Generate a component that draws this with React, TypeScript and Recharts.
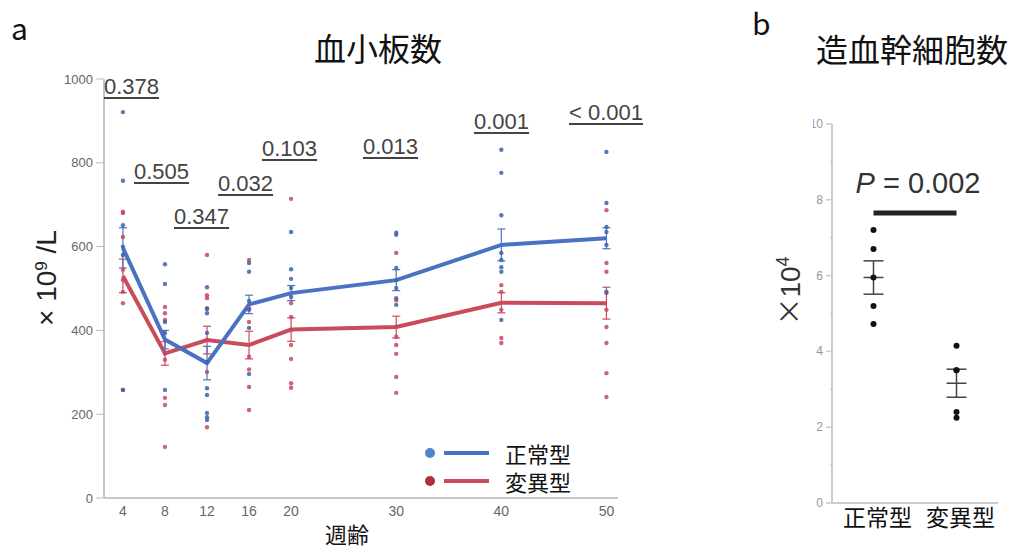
import { ComposedChart, Line, Scatter, XAxis, YAxis, ErrorBar, Legend, ReferenceLine } from 'recharts';

// 血小板数 (x10^9/L) by week of age
const weeks = [4, 8, 12, 16, 20, 30, 40, 50];
const normalMean = [597, 378, 322, 462, 489, 520, 604, 620];
const mutantMean = [530, 345, 377, 365, 402, 408, 466, 465];
const normalSem = [48, 22, 40, 22, 18, 25, 38, 25];
const mutantSem = [40, 28, 33, 33, 28, 26, 24, 38];

const normalPoints: number[][] = [
    [921, 757, 651, 600, 580, 258],
    [558, 511, 420, 394, 258],
    [503, 451, 441, 394, 324, 262, 246, 203, 193, 186],
    [561, 540, 470, 449, 406, 296],
    [635, 546, 523, 501, 480],
    [633, 628, 549, 520, 501, 477, 461],
    [831, 776, 675, 585, 568, 551, 540, 425],
    [826, 704, 647, 635, 604, 492],
];
const mutantPoints: number[][] = [
    [683, 680, 623, 545, 520, 492, 465, 258],
    [456, 441, 425, 345, 330, 239, 222, 122],
    [580, 484, 477, 453, 378, 301, 169],
    [568, 453, 420, 337, 307, 265, 210],
    [714, 465, 432, 401, 365, 332, 274, 263],
    [585, 472, 409, 385, 365, 344, 289, 251],
    [508, 492, 449, 382, 370],
    [687, 561, 540, 489, 449, 408, 370, 298, 241],
];
const pValues = ['0.378', '0.505', '0.347', '0.032', '0.103', '0.013', '0.001', '< 0.001'];
const yTicksA = [0, 200, 400, 600, 800, 1000];

// 造血幹細胞数 (x10^4)
const hscGroups = ['正常型', '変異型'];
const hscValues: number[][] = [
    [7.2, 6.7, 5.95, 5.2, 4.72],
    [4.15, 3.5, 3.5, 2.4, 2.25],
];
const hscMean = [5.95, 3.16];
const hscSem = [0.44, 0.37];
const hscBarY = 7.65;
const yTicksB = [0, 1, 2, 3, 4, 5, 6, 7, 8, 9, 10];

const BLUE = '#4a72c3';
const RED = '#c94c5a';
const BLUE_DOT = '#3d62ad';
const RED_DOT = '#c84762';
const SANS = '"Liberation Sans", Arial, sans-serif';
const CJK = '"Noto Sans CJK JP", "Noto Sans", sans-serif';

// where each p-value label sits (left, vertical centre)
const pLayout = [[104, 87], [134, 172], [174, 217], [218, 184], [262, 149], [363, 147], [474, 122], [569, 113]];

const lineData = weeks.map((w, i) => ({
    x: w,
    normal: normalMean[i],
    mutant: mutantMean[i],
    normalErr: normalSem[i],
    mutantErr: mutantSem[i],
}));
const normalScatter = weeks.flatMap((w, i) => normalPoints[i].map((v) => ({ x: w, normal: v })));
const mutantScatter = weeks.flatMap((w, i) => mutantPoints[i].map((v) => ({ x: w, mutant: v })));

const hscPoints = hscValues.flatMap((vals, i) => vals.map((v) => ({ x: i + 0.5, v })));
const hscSummary = hscGroups.map((_, i) => ({ x: i + 0.5, v: hscMean[i], err: hscSem[i] }));

function LegendBox() {
    const rows = [
        { label: '正常型', dot: '#4a86c8', line: BLUE },
        { label: '変異型', dot: '#b0303a', line: RED },
    ];
    return (
        <div>
            {rows.map((r) => (
                <div key={r.label} style={{ display: 'flex', alignItems: 'center', height: 28 }}>
                    <svg width={70} height={20}>
                        <circle cx={6} cy={10} r={5} fill={r.dot} />
                        <line x1={20} y1={10} x2={65} y2={10} stroke={r.line} strokeWidth={4} />
                    </svg>
                    <span style={{ marginLeft: 11, fontFamily: CJK, fontSize: 22, color: '#111', lineHeight: 1 }}>{r.label}</span>
                </div>
            ))}
        </div>
    );
}

function HscTick(props: any) {
    const { x, y, payload } = props;
    const major = payload.value % 2 === 0;
    return (
        <g>
            <line x1={x - (major ? 6 : 2)} y1={y} x2={x} y2={y} stroke="#ccc" strokeWidth={1.5} />
            {major && (
                <text x={x - 9} y={y} dy={4} textAnchor="end" fontSize={12} fill="#8c98a8" fontFamily={SANS}>
                    {payload.value}
                </text>
            )}
        </g>
    );
}

function PLabel(props: any) {
    const vb = props.viewBox || {};
    const cx = (vb.x || 0) + (vb.width || 0) / 2;
    return (
        <text x={cx + 3} y={(vb.y || 0) - 20} textAnchor="middle" fontSize={29} fill="#333" fontFamily={SANS}>
            <tspan fontStyle="italic">P</tspan> = 0.002
        </text>
    );
}

export default function App() {
    return (
        <div style={{ position: 'absolute', left: 0, top: 0, width: 1013, height: 548, background: '#fff', overflow: 'hidden' }}>
            <div style={{ position: 'absolute', left: 0, top: 0 }}>
                <ComposedChart width={650} height={548} data={lineData} margin={{ top: 79, right: 32, bottom: 20, left: 64 }}>
                    <XAxis
                        type="number"
                        dataKey="x"
                        domain={[2.2, 51.1]}
                        ticks={weeks}
                        tick={{ fontSize: 14, fill: '#666', fontFamily: SANS }}
                        tickLine={false}
                        tickSize={0}
                        tickMargin={8}
                        axisLine={{ stroke: '#c8c8c8', strokeWidth: 2 }}
                        height={30}
                    />
                    <YAxis
                        type="number"
                        domain={[0, 1000]}
                        ticks={yTicksA}
                        tick={{ fontSize: 13, fill: '#666', fontFamily: SANS }}
                        tickSize={8}
                        tickMargin={3}
                        tickLine={{ stroke: '#bbb' }}
                        axisLine={{ stroke: '#c8c8c8', strokeWidth: 2 }}
                        width={40}
                    />
                    <Scatter
                        data={mutantScatter}
                        dataKey="mutant"
                        isAnimationActive={false}
                        shape={(p: any) => <circle cx={p.cx} cy={p.cy} r={2.2} fill={RED_DOT} fillOpacity={0.85} />}
                    />
                    <Scatter
                        data={normalScatter}
                        dataKey="normal"
                        isAnimationActive={false}
                        shape={(p: any) => <circle cx={p.cx} cy={p.cy} r={2.2} fill={BLUE_DOT} fillOpacity={0.85} />}
                    />
                    <Line type="linear" dataKey="mutant" stroke={RED} strokeWidth={4} dot={false} isAnimationActive={false}>
                        <ErrorBar dataKey="mutantErr" width={4} stroke={RED} strokeWidth={1.2} direction="y" />
                    </Line>
                    <Line type="linear" dataKey="normal" stroke={BLUE} strokeWidth={4} dot={false} isAnimationActive={false}>
                        <ErrorBar dataKey="normalErr" width={4} stroke={BLUE} strokeWidth={1.2} direction="y" />
                    </Line>
                    <Legend
                        layout="horizontal"
                        verticalAlign="middle"
                        align="center"
                        wrapperStyle={{ left: 424, top: 439, width: 180 }}
                        content={() => <LegendBox />}
                    />
                </ComposedChart>
            </div>

            <div style={{ position: 'absolute', left: 813, top: 0 }}>
                <ComposedChart width={200} height={548} margin={{ top: 124, right: 15, bottom: 5, left: 0 }}>
                    <XAxis
                        type="number"
                        dataKey="x"
                        domain={[0, 2]}
                        ticks={[0.5, 1.5]}
                        tickFormatter={(v: number) => hscGroups[Math.floor(v)]}
                        tick={{ fontSize: 23, fill: '#111', fontFamily: CJK, dx: 4 }}
                        tickLine={false}
                        tickSize={0}
                        tickMargin={7}
                        axisLine={{ stroke: '#ccc', strokeWidth: 2 }}
                        height={40}
                    />
                    <YAxis
                        type="number"
                        domain={[0, 10]}
                        ticks={yTicksB}
                        interval={0}
                        tick={<HscTick />}
                        tickLine={false}
                        tickSize={0}
                        tickMargin={0}
                        axisLine={{ stroke: '#ccc', strokeWidth: 2 }}
                        width={19}
                    />
                    <ReferenceLine
                        segment={[{ x: 0.5, y: hscBarY }, { x: 1.5, y: hscBarY }]}
                        stroke="#222"
                        strokeWidth={5}
                        ifOverflow="visible"
                        label={(p: any) => <PLabel {...p} />}
                    />
                    <Scatter
                        data={hscSummary}
                        dataKey="v"
                        isAnimationActive={false}
                        shape={(p: any) => <line x1={p.cx - 10} y1={p.cy} x2={p.cx + 10} y2={p.cy} stroke="#444" strokeWidth={1.5} />}
                    >
                        <ErrorBar dataKey="err" width={10} stroke="#444" strokeWidth={1.5} direction="y" />
                    </Scatter>
                    <Scatter
                        data={hscPoints}
                        dataKey="v"
                        isAnimationActive={false}
                        shape={(p: any) => <circle cx={p.cx} cy={p.cy} r={3} fill="#111" />}
                    />
                </ComposedChart>
            </div>

            {/* panel letters and titles */}
            <div style={{ position: 'absolute', left: 11, top: 27, transform: 'translateY(-50%)', fontFamily: CJK, fontSize: 30, lineHeight: 1, color: '#111' }}>a</div>
            <div style={{ position: 'absolute', left: 752, top: 22, transform: 'translateY(-50%)', fontFamily: CJK, fontSize: 30, lineHeight: 1, color: '#111' }}>b</div>
            <div style={{ position: 'absolute', left: 378, top: 47, transform: 'translate(-50%, -50%)', fontFamily: CJK, fontSize: 32, lineHeight: 1, color: '#111', whiteSpace: 'nowrap' }}>血小板数</div>
            <div style={{ position: 'absolute', left: 912, top: 48, transform: 'translate(-50%, -50%)', fontFamily: CJK, fontSize: 32, lineHeight: 1, color: '#111', whiteSpace: 'nowrap' }}>造血幹細胞数</div>

            {/* axis titles */}
            <div style={{ position: 'absolute', left: 47, top: 278, transform: 'translate(-50%, -50%) rotate(-90deg)', fontFamily: SANS, fontSize: 28, lineHeight: 1, color: '#222', whiteSpace: 'nowrap' }}>
                × 10<sup style={{ fontSize: 17, verticalAlign: 'top', lineHeight: 1 }}>9</sup> /L
            </div>
            <div style={{ position: 'absolute', left: 347, top: 533, transform: 'translate(-50%, -50%)', fontFamily: CJK, fontSize: 22, lineHeight: 1, color: '#111' }}>週齢</div>
            <div style={{ position: 'absolute', left: 789, top: 291, transform: 'translate(-50%, -50%) rotate(-90deg)', fontSize: 28, lineHeight: 1, color: '#333', whiteSpace: 'nowrap' }}>
                <span style={{ fontFamily: CJK }}>×</span>
                <span style={{ fontFamily: SANS }}>10<sup style={{ fontSize: 18, verticalAlign: 'top', lineHeight: 1 }}>4</sup></span>
            </div>

            {/* p-values between groups per week */}
            {pValues.map((p, i) => (
                <div
                    key={p + i}
                    style={{
                        position: 'absolute',
                        left: pLayout[i][0],
                        top: pLayout[i][1],
                        transform: 'translateY(-50%)',
                        fontFamily: SANS,
                        fontSize: 22,
                        lineHeight: 1,
                        color: '#444',
                        whiteSpace: 'nowrap',
                        textDecoration: 'underline',
                        textUnderlineOffset: '3px',
                        textDecorationThickness: '1.5px',
                    }}
                >
                    {p}
                </div>
            ))}
        </div>
    );
}
